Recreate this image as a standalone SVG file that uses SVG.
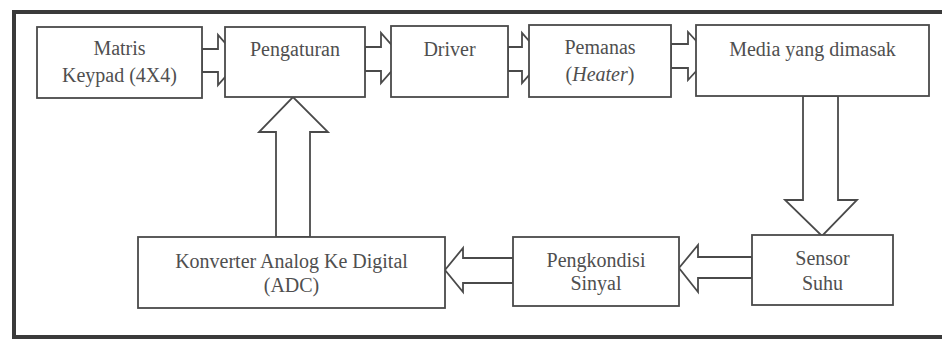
<svg xmlns="http://www.w3.org/2000/svg" width="942" height="340" viewBox="0 0 942 340">
<style>
.bx{fill:#fff;stroke:#4a4a4a;stroke-width:1.8}
.ar{fill:#fff;stroke:#4a4a4a;stroke-width:1.8;stroke-linejoin:miter}
.t{font-family:"Liberation Serif","Times New Roman",serif;font-size:20px;fill:#4f4f4f;text-anchor:middle}
.i{font-style:italic}
</style>
<rect x="0" y="0" width="942" height="340" fill="#fff"/>
<rect x="14" y="12" width="940" height="325" fill="none" stroke="#3a3a3a" stroke-width="4"/>
<g id="connectors">
<polygon class="ar" points="202,49 218,49 218,35 240,60 218,85 218,72 202,72"/>
<polygon class="ar" points="365,47 381,47 381,33 403,58 381,83 381,71 365,71"/>
<polygon class="ar" points="508,47 522,47 522,33 544,58 522,83 522,71 508,71"/>
<polygon class="ar" points="671,44 688,44 688,32 710,56 688,80 688,68 671,68"/>
<polygon class="ar" points="803,96 803,200 785,200 822,236 857,200 838,200 838,96"/>
<polygon class="ar" points="752,257 698,257 698,245 679,268 698,292 698,278 752,278"/>
<polygon class="ar" points="513,258 463,258 463,248 445,270 463,292 463,283 513,283"/>
<polygon class="ar" points="276,237 276,132 259,132 293,97 328,132 310,132 310,237"/>
</g>
<g id="matris"><rect class="bx" x="37" y="27" width="165" height="71"/><text class="t" x="119.5" y="55">Matris</text><text class="t" x="119.5" y="82">Keypad (4X4)</text></g>
<g id="pengaturan"><rect class="bx" x="225" y="27" width="140" height="70"/><text class="t" x="295" y="56">Pengaturan</text></g>
<g id="driver"><rect class="bx" x="391" y="26" width="117" height="71"/><text class="t" x="449.5" y="56">Driver</text></g>
<g id="pemanas"><rect class="bx" x="529" y="25" width="142" height="72"/><text class="t" x="600" y="54">Pemanas</text><text class="t" x="600" y="81">(<tspan class="i">Heater</tspan>)</text></g>
<g id="media"><rect class="bx" x="696" y="25" width="233" height="71"/><text class="t" x="812.5" y="56">Media yang dimasak</text></g>
<g id="sensor"><rect class="bx" x="752" y="235" width="141" height="70"/><text class="t" x="822.5" y="265">Sensor</text><text class="t" x="822.5" y="290">Suhu</text></g>
<g id="pengkondisi"><rect class="bx" x="513" y="237" width="166" height="69"/><text class="t" x="596" y="267">Pengkondisi</text><text class="t" x="596" y="290">Sinyal</text></g>
<g id="adc"><rect class="bx" x="138" y="237" width="307" height="71"/><text class="t" x="291.5" y="268">Konverter Analog Ke Digital</text><text class="t" x="291.5" y="292">(ADC)</text></g>
</svg>
